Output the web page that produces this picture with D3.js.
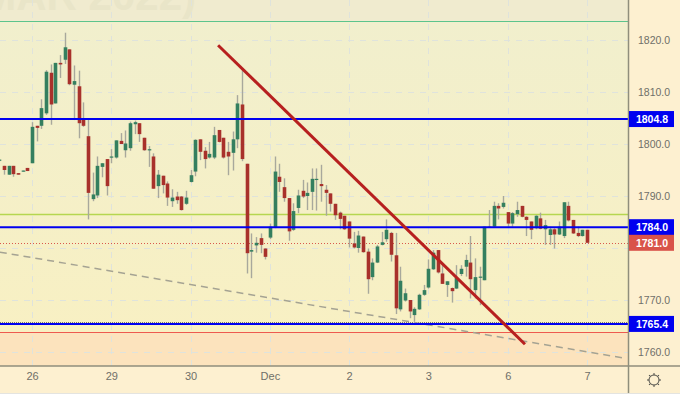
<!DOCTYPE html>
<html>
<head>
<meta charset="utf-8">
<script src="https://cdn.jsdelivr.net/npm/d3@7"></script>
<style>
  html, body { margin: 0; padding: 0; background: #fdf0d0; overflow: hidden; }
  text { font-family: "Liberation Sans", Arial, sans-serif; }
</style>
</head>
<body>
<div id="chart"></div>
<script>
var svgWidth = 680;
var svgHeight = 394;

// candles
var opens = [1796.8,1795.8,1794.1,1795.8,1794.4,1794.7,1795.4,1796.3,1803.5,1803.5,1805.9,1813.7,1807.8,1815.6,1816.2,1818.2,1811.4,1811.1,1805,1801.5,1789.4,1790.1,1795.6,1797.1,1797.4,1797.4,1800.6,1798.8,1799.2,1803.8,1804,1801.2,1798.9,1797.6,1791.9,1793.9,1792.4,1789,1789.9,1789.9,1788.5,1792.7,1794.7,1800.9,1798.7,1797.4,1797.4,1802.7,1801.2,1798.5,1798.3,1800.9,1807.6,1796.2,1779.3,1780.5,1781.9,1779.9,1782,1783.9,1793.7,1791.7,1789.6,1783.5,1787.7,1791,1790,1790.8,1793.1,1792.3,1791.2,1790.5,1788.5,1786.8,1786.2,1785.1,1780.9,1780,1782.2,1779.3,1774.4,1777.2,1780.6,1781.7,1782.9,1778.6,1768.2,1769.9,1770,1767.1,1768.2,1771,1772.4,1775.9,1779.6,1775.1,1772.9,1772.3,1772.2,1775,1776.4,1777.2,1771.9,1774.3,1773.8,1784.1,1784.1,1788.1,1787.9,1786.9,1784.7,1786.5,1788.1,1786,1785.1,1783.8,1785.7,1783.6,1782.5,1783.6,1782.6,1782.3,1788.1,1785.4,1782.9,1782.3,1783.5];
var highs = [1797,1795.8,1795.8,1795.8,1794.4,1794.9,1795.4,1804.2,1803.5,1808.6,1814.2,1815.3,1815.6,1817.1,1821.4,1818.2,1815.1,1814.1,1808,1804.9,1794.5,1797.6,1796.3,1797.1,1799,1800.7,1802.1,1802.6,1804.3,1804.5,1804,1801.2,1799.6,1798.2,1795,1793.9,1792.8,1791.3,1790.8,1790,1791,1795,1800.9,1800.9,1799.4,1800.4,1803.3,1802.7,1801.2,1800.4,1802.4,1809.4,1814.2,1796.2,1782.8,1782.1,1782.8,1779.9,1784.7,1797.6,1796.2,1793.4,1789.6,1788.6,1791.2,1793.1,1792.6,1795.3,1795.3,1796,1792.1,1790.5,1788.5,1787,1786.2,1785.1,1783.1,1783.3,1782.2,1779.9,1778,1780.6,1783.1,1785.5,1783.1,1782.9,1776.4,1772.2,1770,1768.6,1771.2,1772.9,1777.8,1779.6,1779.6,1777.2,1773.6,1772.4,1776.7,1776.7,1778.7,1782.3,1778,1776.4,1784.1,1787.3,1788.9,1788.6,1790,1786.9,1786.9,1788.9,1788.1,1786.1,1785.1,1786.3,1786.8,1785.4,1784.1,1783.8,1785.1,1788.8,1788.9,1785.4,1784.1,1783.5,1783.5];
var lows = [1796.7,1794.1,1794.1,1793.7,1794.1,1794.7,1794.8,1796.3,1800.5,1802.9,1805.6,1803.7,1807.8,1812.7,1815.4,1811.3,1804.6,1801.1,1803.3,1785.5,1789,1789.6,1793.6,1790.1,1796.3,1797.2,1800,1797.4,1798.7,1801.9,1800.4,1798.7,1795.6,1791.4,1789.6,1790.5,1788.1,1787.9,1788.5,1787.2,1788.3,1792.6,1793.8,1796.9,1795.3,1797.2,1797.1,1800.3,1797.2,1794,1794.9,1799.2,1796.7,1775.1,1774.2,1779.1,1779,1777.8,1781.7,1783.8,1790.8,1788.9,1781.4,1783.3,1786.7,1789.6,1787.3,1787.3,1787.2,1788.9,1786.2,1787,1785.4,1783.6,1783.5,1780.1,1779.9,1779.1,1779.1,1771.2,1773.8,1777.1,1780.5,1781.2,1777.4,1767.3,1767.8,1769.7,1766.5,1765.8,1768.1,1770.8,1772.2,1775.8,1775.1,1773.1,1770.6,1769.5,1772.1,1774.6,1774.5,1770.3,1770.3,1769,1773.8,1783.9,1784,1785.5,1787.6,1784.1,1784.1,1786,1785.9,1782.3,1781.7,1783.6,1783.6,1780.6,1780.6,1779.9,1782.5,1781.9,1785.1,1782.7,1782.1,1782.2,1781];
var closes = [1797,1795,1795.8,1794.2,1794.1,1794.9,1794.8,1803.3,1803.1,1806.9,1813.9,1807.6,1815.6,1815.3,1818.6,1811.5,1812.1,1804,1803.5,1790.6,1790.3,1795.8,1796.3,1791.9,1797.6,1800.7,1800,1800.1,1804,1804.2,1801.9,1798.8,1799,1791.4,1794.1,1792.1,1789.7,1789.7,1789.2,1787.3,1789.7,1794,1800.8,1798.5,1797.1,1798.1,1801.7,1800.4,1797.4,1797.6,1800.9,1807.8,1797.1,1779,1779.6,1781,1780.6,1778.3,1784.1,1794.7,1792.7,1789.6,1783.2,1787.1,1790.1,1789.9,1790.6,1793.3,1793.3,1791.9,1790.6,1788.5,1786.3,1785.6,1783.6,1781.8,1780.1,1782.4,1779.2,1774,1777.2,1780.3,1781.1,1783.5,1778.7,1768.4,1773.7,1771.3,1767.8,1768.3,1771,1771.9,1776,1779.1,1775.3,1773.1,1773.6,1771.7,1774.3,1776,1777.7,1774,1774.4,1774.5,1784.1,1783.9,1788.1,1787.6,1788.7,1784.7,1786.7,1787.3,1786,1785.4,1783.5,1786.2,1783.7,1784.4,1783.6,1782.6,1784.1,1788.8,1785.3,1782.8,1782.3,1783.5,1781];

// axis ticks
var dayIndex = [7, 24, 41, 58, 75, 92, 109, 126];
var dayLabels = ["26", "29", "30", "Dec", "2", "3", "6", "7"];
var priceTicks = [1820, 1810, 1800, 1790, 1770, 1760];

// horizontal levels
var blueLevels = [1804.8, 1784.0, 1765.4];
var lastPrice = 1781.0;
var zoneTop = 1823.6;
var zoneBottom = 1763.8;
var limeLevel = 1786.5;
var dottedLevel = 1765.8;

// trend lines as [candle index, price]
var redTrend = [[46.9, 1819.0], [112.7, 1761.5]];
var greyTrend = [[0.1, 1779.2], [134.1, 1758.8]];

var plotWidth = 628;
var plotHeight = 366;

var xScale = d3.scaleLinear().domain([7, 126]).range([32, 587]);
var yScale = d3.scaleLinear().domain([1760, 1820]).range([352, 40]);
var px = v => Math.round(xScale(v));
var py = v => Math.round(yScale(v));

var svg = d3.select("#chart")
  .append("svg")
  .attr("width", svgWidth)
  .attr("height", svgHeight)
  .style("display", "block");

var defs = svg.append("defs");
defs.append("clipPath").attr("id", "plotClip")
  .append("rect").attr("width", plotWidth).attr("height", plotHeight);

var grad = defs.append("linearGradient").attr("id", "zoneFill")
  .attr("x1", 0).attr("y1", 0).attr("x2", 0).attr("y2", 1);
grad.append("stop").attr("offset", "0%").attr("stop-color", "#f1efcd");
grad.append("stop").attr("offset", "100%").attr("stop-color", "#f8f0c3");

// panels
svg.append("rect").attr("width", svgWidth).attr("height", svgHeight).attr("fill", "#fdf0d0");

var plot = svg.append("g").attr("clip-path", "url(#plotClip)");

plot.append("rect").attr("width", plotWidth).attr("height", plotHeight).attr("fill", "#f0ebcf");
plot.append("rect")
  .attr("y", yScale(zoneTop))
  .attr("width", plotWidth)
  .attr("height", yScale(zoneBottom) - yScale(zoneTop))
  .attr("fill", "url(#zoneFill)");
plot.append("rect")
  .attr("y", yScale(zoneBottom))
  .attr("width", plotWidth)
  .attr("height", plotHeight - yScale(zoneBottom))
  .attr("fill", "#fce3bd");

// watermark, only its lower edge is in view
plot.append("text")
  .attr("x", 196)
  .attr("y", 10)
  .attr("text-anchor", "end")
  .attr("font-size", 42)
  .attr("font-weight", "bold")
  .attr("fill", "#e9e5c8")
  .text("GOLD (MAR 2022)");

// grid
plot.selectAll(".vgrid").data(dayIndex).enter().append("line")
  .attr("x1", d => px(d) + 0.5).attr("x2", d => px(d) + 0.5)
  .attr("y1", 0).attr("y2", plotHeight)
  .attr("stroke", "#dfe3dc").attr("stroke-dasharray", "6 6");

plot.selectAll(".hgrid").data(priceTicks.concat([1780])).enter().append("line")
  .attr("x1", 0).attr("x2", plotWidth)
  .attr("y1", d => py(d) + 0.5).attr("y2", d => py(d) + 0.5)
  .attr("stroke", "#dfe3dc").attr("stroke-dasharray", "6 6");

// level lines
plot.append("line").attr("x1", 0).attr("x2", plotWidth)
  .attr("y1", py(zoneTop) + 0.5).attr("y2", py(zoneTop) + 0.5)
  .attr("stroke", "#5cc48c");
plot.append("line").attr("x1", 0).attr("x2", plotWidth)
  .attr("y1", py(limeLevel) + 0.5).attr("y2", py(limeLevel) + 0.5)
  .attr("stroke", "#b6d650").attr("stroke-width", 1.7);
plot.append("line").attr("x1", 0).attr("x2", plotWidth)
  .attr("y1", py(dottedLevel) + 0.5).attr("y2", py(dottedLevel) + 0.5)
  .attr("stroke", "#77776a").attr("stroke-dasharray", "1 1");
plot.append("line").attr("x1", 0).attr("x2", plotWidth)
  .attr("y1", py(zoneBottom) + 0.5).attr("y2", py(zoneBottom) + 0.5)
  .attr("stroke", "#ee5a4f");
plot.append("line").attr("x1", 0).attr("x2", plotWidth)
  .attr("y1", py(lastPrice) + 0.5).attr("y2", py(lastPrice) + 0.5)
  .attr("stroke", "#d9584c").attr("stroke-dasharray", "1 2");

// grey dashed trend goes under the candles
var trendLine = d3.line().x(d => xScale(d[0])).y(d => yScale(d[1]));
plot.append("path")
  .attr("d", trendLine(greyTrend))
  .attr("fill", "none")
  .attr("stroke", "#a5a393")
  .attr("stroke-width", 1.5)
  .attr("stroke-dasharray", "7 5");

// candles
var candles = plot.selectAll(".candle").data(d3.range(opens.length)).enter().append("g");

candles.append("line")
  .attr("x1", i => px(i) + 0.5).attr("x2", i => px(i) + 0.5)
  .attr("y1", i => yScale(highs[i])).attr("y2", i => yScale(lows[i]))
  .attr("stroke", "#a8a89c")
  .attr("stroke-width", 1.4);

candles.append("rect")
  .attr("x", i => px(i) + 0.5 - 1.8)
  .attr("width", 3.6)
  .attr("y", i => yScale(Math.max(opens[i], closes[i])))
  .attr("height", i => Math.max(1.2, Math.abs(yScale(opens[i]) - yScale(closes[i]))))
  .attr("fill", i => closes[i] >= opens[i] ? "#347f5f" : "#a8312b");

// blue levels sit on top of the candles
plot.selectAll(".blue").data(blueLevels).enter().append("line")
  .attr("x1", 0).attr("x2", plotWidth)
  .attr("y1", d => yScale(d)).attr("y2", d => yScale(d))
  .attr("stroke", "#0000f0").attr("stroke-width", 2);

plot.append("path")
  .attr("d", trendLine(redTrend))
  .attr("fill", "none")
  .attr("stroke", "#b7201f")
  .attr("stroke-width", 3);

// axes
var bottomAxis = d3.axisBottom(xScale)
  .tickValues(dayIndex)
  .tickSize(0)
  .tickPadding(6)
  .tickFormat((d, i) => dayLabels[i]);

var xAxis = svg.append("g")
  .attr("transform", `translate(0, ${plotHeight})`)
  .call(bottomAxis);
xAxis.select(".domain").remove();
xAxis.selectAll("text").attr("font-size", 11).attr("fill", "#6f6f68").style("font-family", '"Liberation Sans", Arial, sans-serif');

var rightAxis = d3.axisRight(yScale)
  .tickValues(priceTicks)
  .tickSize(0)
  .tickPadding(10)
  .tickFormat(d3.format(".1f"));

var yAxis = svg.append("g")
  .attr("transform", `translate(${plotWidth}, 0)`)
  .call(rightAxis);
yAxis.select(".domain").remove();
yAxis.selectAll("text").attr("font-size", 10.5).attr("fill", "#6f6f68").style("font-family", '"Liberation Sans", Arial, sans-serif');

svg.append("line").attr("x1", 0).attr("x2", svgWidth)
  .attr("y1", plotHeight).attr("y2", plotHeight)
  .attr("stroke", "#8f8e7c").attr("stroke-width", 1.5);
svg.append("line").attr("x1", plotWidth + 0.5).attr("x2", plotWidth + 0.5)
  .attr("y1", 0).attr("y2", svgHeight - 1)
  .attr("stroke", "#8f8e7c").attr("stroke-width", 1.5);
svg.append("line").attr("x1", 0).attr("x2", svgWidth)
  .attr("y1", svgHeight - 0.5).attr("y2", svgHeight - 0.5)
  .attr("stroke", "#e4e4e0");

// price labels on the axis
var labelData = blueLevels.map(d => ({ value: d, color: "#0000f0" }));
labelData.push({ value: lastPrice, color: "#d9534a" });

var labels = svg.selectAll(".priceLabel").data(labelData).enter().append("g")
  .attr("transform", d => `translate(${plotWidth + 1}, ${yScale(d.value)})`);

labels.append("rect")
  .attr("x", 0).attr("y", -8)
  .attr("width", 45).attr("height", 16)
  .attr("fill", d => d.color);

labels.append("text")
  .attr("x", 23)
  .attr("y", 4)
  .attr("text-anchor", "middle")
  .attr("font-size", 10.5)
  .attr("font-weight", "bold")
  .attr("fill", "#ffffff")
  .text(d => d.value.toFixed(1));

// settings icon
var icon = svg.append("g").attr("transform", "translate(654, 380)")
  .attr("fill", "none").attr("stroke", "#4d4d48").attr("stroke-width", 1);
icon.append("circle").attr("r", 5);
icon.selectAll("line").data(d3.range(8)).enter().append("line")
  .attr("y1", -5).attr("y2", -7)
  .attr("transform", d => `rotate(${d * 45})`);
</script>
</body>
</html>
